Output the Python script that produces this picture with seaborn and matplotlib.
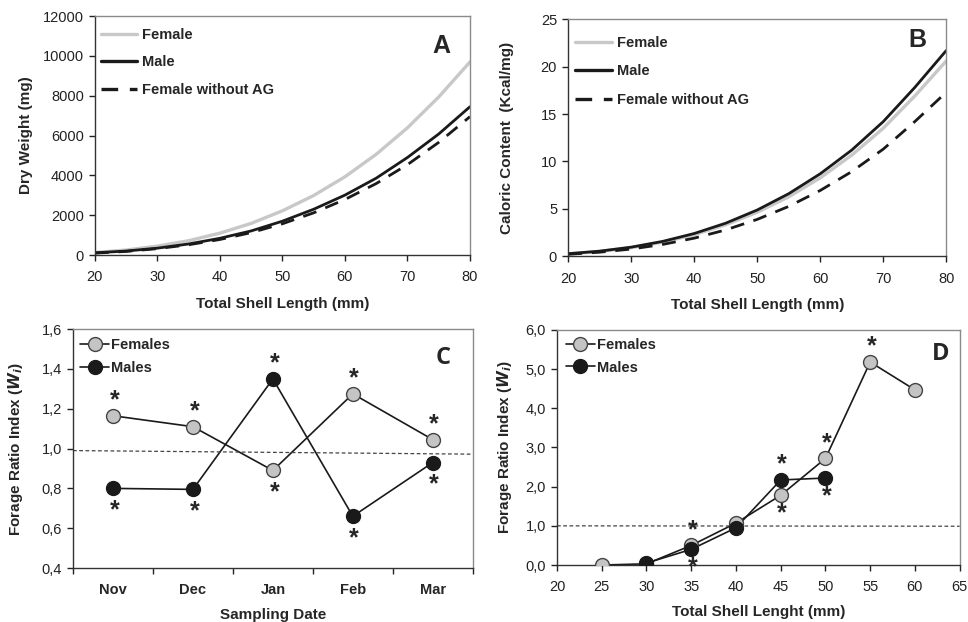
import numpy as np
import pandas as pd
import matplotlib
matplotlib.use("Agg")
import matplotlib.pyplot as plt
import seaborn as sns

# ---------------- data ----------------
length_ab = [20, 25, 30, 35, 40, 45, 50, 55, 60, 65, 70, 75, 80]
dw_female = [125, 250, 445, 720, 1100, 1590, 2220, 2990, 3930, 5060, 6390, 7940, 9700]
dw_male = [110, 200, 345, 555, 840, 1210, 1700, 2300, 3010, 3860, 4900, 6080, 7450]
dw_female_noag = [95, 180, 320, 515, 780, 1125, 1570, 2120, 2790, 3590, 4540, 5660, 6950]

cc_female = [0.25, 0.51, 0.91, 1.49, 2.28, 3.32, 4.64, 6.27, 8.27, 10.67, 13.5, 16.9, 20.6]
cc_male = [0.27, 0.54, 0.96, 1.57, 2.40, 3.49, 4.88, 6.60, 8.70, 11.2, 14.2, 17.8, 21.7]
cc_female_noag = [0.21, 0.43, 0.76, 1.25, 1.91, 2.78, 3.89, 5.26, 6.94, 8.93, 11.3, 14.2, 17.3]

months = ["Nov", "Dec", "Jan", "Feb", "Mar"]
c_females = [1.165, 1.11, 0.89, 1.275, 1.045]
c_males = [0.80, 0.795, 1.35, 0.66, 0.93]
c_fem_star = ["up", "up", "down", "up", "up"]
c_male_star = ["down", "down", "up", "down", "down"]
c_ref = [0.99, 0.972]

d_len_f = [25, 30, 35, 40, 45, 50, 55, 60]
d_females = [0.0, 0.03, 0.50, 1.07, 1.78, 2.72, 5.18, 4.47]
d_fem_star = [None, None, "up", None, "down", "up", "up", None]
d_len_m = [30, 35, 40, 45, 50]
d_males = [0.05, 0.40, 0.95, 2.17, 2.22]
d_male_star = [None, "down", None, "up", "down"]
d_ref = [1.0, 0.99]

# ---------------- style ----------------
sns.set_style("ticks")
plt.rcParams["font.family"] = ["Liberation Sans", "DejaVu Sans"]
plt.rcParams["font.size"] = 10
plt.rcParams["axes.linewidth"] = 1.0

fig = plt.figure(figsize=(9.68, 6.22), dpi=100)
axA = fig.add_axes([0.098, 0.590, 0.3875, 0.384])
axB = fig.add_axes([0.587, 0.588, 0.3905, 0.381])
axC = fig.add_axes([0.0754, 0.0868, 0.413, 0.384])
axD = fig.add_axes([0.5754, 0.0916, 0.416, 0.378])

GRAY = "#c4c4c4"
DARK = "#1a1a1a"
LEGPROP = {"weight": "bold", "size": 10.5}


def style_axes(ax):
    for s in ["top", "right"]:
        ax.spines[s].set_color("#8a8a8a")
    for s in ["left", "bottom"]:
        ax.spines[s].set_color("#333333")
    ax.tick_params(direction="out", length=4, width=1, colors="#222222",
                   labelsize=10.5, pad=4)
    ax.tick_params(axis="x", pad=7)


def curve_panel(ax, x, f, m, fn, ylim, yticks, ylabel, letter, ylab_x,
                leg_anchor, leg_spacing, letter_xy):
    df = pd.DataFrame({"x": x, "f": f, "m": m, "fn": fn})
    sns.lineplot(data=df, x="x", y="f", ax=ax, color="#c8c8c8", lw=2.4, label="Female")
    sns.lineplot(data=df, x="x", y="m", ax=ax, color=DARK, lw=2.0, label="Male")
    sns.lineplot(data=df, x="x", y="fn", ax=ax, color=DARK, lw=2.0,
                 label="Female without AG")
    ax.lines[-1].set_dashes((5, 3.5))
    ax.set_xlim(20, 80)
    ax.set_ylim(*ylim)
    ax.set_xticks(range(20, 81, 10))
    ax.set_yticks(yticks)
    ax.set_xlabel("Total Shell Length (mm)", fontweight="bold", fontsize=11, labelpad=9)
    ax.set_ylabel(ylabel, fontweight="bold", fontsize=11)
    ax.yaxis.set_label_coords(ylab_x, 0.5)
    leg = ax.legend(loc="upper left", bbox_to_anchor=leg_anchor, frameon=False,
                    handlelength=2.5, handletextpad=0.35, labelspacing=leg_spacing,
                    borderaxespad=0, borderpad=0, prop=LEGPROP)
    for h in leg.get_lines():
        h.set_linewidth(2.4)
    ax.text(*letter_xy, letter, transform=ax.transAxes, fontsize=18,
            fontweight="bold", ha="center", va="center")
    style_axes(ax)


curve_panel(axA, length_ab, dw_female, dw_male, dw_female_noag, (0, 12000),
            range(0, 12001, 2000), "Dry Weight (mg)", "A", -0.165,
            (0.016, 0.952), 0.95, (0.925, 0.874))
curve_panel(axB, length_ab, cc_female, cc_male, cc_female_noag, (0, 25),
            range(0, 26, 5), "Caloric Content  (Kcal/mg)", "B", -0.143,
            (0.0185, 0.929), 0.98, (0.923, 0.911))


def star(ax, x, y, where, down=-16):
    if where is None:
        return
    off = 11 if where == "up" else down
    ax.annotate("*", (x, y), xytext=(1, off), textcoords="offset points",
                ha="center", va="center", fontsize=18, fontweight="bold")


def comma(v, p):
    return f"{v:.1f}".replace(".", ",")


def marker_legend(ax, anchor, spacing):
    leg = ax.legend(loc="upper left", bbox_to_anchor=anchor, frameon=False,
                    handlelength=2.0, handletextpad=0.15, labelspacing=spacing,
                    borderaxespad=0, borderpad=0, prop=LEGPROP)
    for h in leg.get_lines():
        h.set_linestyle("-")
        h.set_color(DARK)
        h.set_linewidth(1.2)


# ---------------- panel C ----------------
xc = np.arange(len(months)) + 0.5
dfc = pd.DataFrame({"x": np.concatenate([xc, xc]),
                    "y": c_females + c_males,
                    "g": ["Females"] * 5 + ["Males"] * 5})
sns.lineplot(data=dfc, x="x", y="y", hue="g", palette={"Females": DARK, "Males": DARK},
             ax=axC, lw=1.2, legend=False)
axC.plot(xc, c_females, "o", ms=10, mfc=GRAY, mec="#444444", mew=1.0, label="Females")
axC.plot(xc, c_males, "o", ms=10, mfc=DARK, mec=DARK, label="Males")
axC.plot([0, len(months)], c_ref, ls=(0, (3, 2)), color="#444444", lw=0.9)
for x, y, s in zip(xc, c_females, c_fem_star):
    star(axC, x, y, s)
for x, y, s in zip(xc, c_males, c_male_star):
    star(axC, x, y, s)
axC.set_xlim(0, len(months))
axC.set_ylim(0.4, 1.6)
axC.set_yticks(np.arange(0.4, 1.61, 0.2))
axC.yaxis.set_major_formatter(matplotlib.ticker.FuncFormatter(comma))
axC.set_xticks(np.arange(len(months) + 1))
axC.set_xticklabels([])
axC.set_xticks(xc, minor=True)
axC.set_xticklabels(months, minor=True, fontweight="bold")
style_axes(axC)
axC.tick_params(axis="x", which="minor", length=0, pad=11, labelsize=10.5)
axC.set_xlabel("Sampling Date", fontweight="bold", fontsize=11, labelpad=8)
axC.set_ylabel("Forage Ratio Index ($\\mathbfit{W_i}$)", fontweight="bold", fontsize=11)
axC.yaxis.set_label_coords(-0.12, 0.5)
marker_legend(axC, (0.0175, 0.962), 0.62)
axC.text(0.925, 0.879, "C", transform=axC.transAxes, fontsize=17,
         fontweight="bold", ha="center", va="center", family="Open Sans")

# ---------------- panel D ----------------
dfd = pd.DataFrame({"x": d_len_f + d_len_m, "y": d_females + d_males,
                    "g": ["Females"] * len(d_len_f) + ["Males"] * len(d_len_m)})
sns.lineplot(data=dfd, x="x", y="y", hue="g", palette={"Females": DARK, "Males": DARK},
             ax=axD, lw=1.2, legend=False)
axD.plot(d_len_f, d_females, "o", ms=10, mfc=GRAY, mec="#444444", mew=1.0,
         label="Females", zorder=3)
axD.plot(d_len_m, d_males, "o", ms=10, mfc=DARK, mec=DARK, label="Males", zorder=4)
axD.plot([20, 65], d_ref, ls=(0, (3, 2)), color="#444444", lw=0.9)
for x, y, s in zip(d_len_f, d_females, d_fem_star):
    star(axD, x, y, s, down=-13)
for x, y, s in zip(d_len_m, d_males, d_male_star):
    star(axD, x, y, s, down=-13)
axD.set_xlim(20, 65)
axD.set_ylim(0, 6)
axD.set_xticks(range(20, 66, 5))
axD.set_yticks(np.arange(0, 6.01, 1.0))
axD.yaxis.set_major_formatter(matplotlib.ticker.FuncFormatter(comma))
style_axes(axD)
axD.set_xlabel("Total Shell Lenght (mm)", fontweight="bold", fontsize=11, labelpad=8)
axD.set_ylabel("Forage Ratio Index ($\\mathbfit{W_i}$)", fontweight="bold", fontsize=11)
axD.yaxis.set_label_coords(-0.107, 0.5)
marker_legend(axD, (0.022, 0.965), 0.58)
axD.text(0.953, 0.898, "D", transform=axD.transAxes, fontsize=17,
         fontweight="bold", ha="center", va="center", family="Open Sans")

fig.savefig("out.png", dpi=100)
